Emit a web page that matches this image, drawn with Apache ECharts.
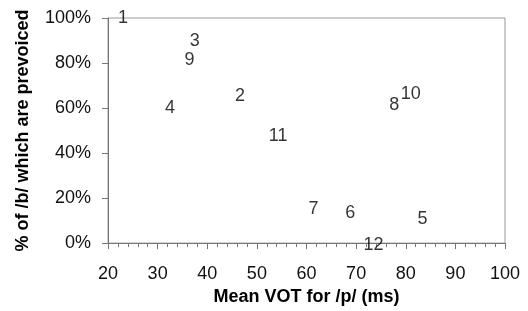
<!DOCTYPE html>
<html>
<head>
<meta charset="utf-8">
<script src="https://cdn.jsdelivr.net/npm/echarts@6/dist/echarts.min.js"></script>
<style>
  html, body { margin: 0; padding: 0; background: #fff; }
  #chart { width: 528px; height: 311px; }
</style>
</head>
<body>
<div id="chart"></div>
<script>
// point labels and their positions (mean VOT in ms, % prevoiced)
var labels = ['1', '2', '3', '4', '5', '6', '7', '8', '9', '10', '11', '12'];
var meanVot = [23, 46.6, 37.5, 32.5, 83.4, 68.8, 61.4, 77.7, 36.4, 81, 54.3, 73.5];
var prevoiced = [100, 65.3, 89.6, 60.2, 10.6, 13.5, 15.1, 61.2, 81.5, 66.1, 47.7, -1];

function DrawVot() {
    var chart = echarts.init(document.getElementById('chart'));
    var points = [];
    for (var i = 0; i < labels.length; i++) {
        points.push({ value: [meanVot[i], prevoiced[i]], name: labels[i] });
    }
    var font = 'Liberation Sans, Arial, sans-serif';
    var option = {
        animation: false,
        backgroundColor: '#fff',
        grid: {
            left: 108, right: 23, top: 18, bottom: 66,
            show: true,
            borderColor: '#999',
            borderWidth: 1
        },
        xAxis: {
            type: 'value',
            min: 20, max: 100, interval: 10,
            name: 'Mean VOT for /p/ (ms)',
            nameLocation: 'middle',
            nameGap: 44,
            nameTextStyle: { fontFamily: font, fontSize: 18, fontWeight: 'bold', color: '#000' },
            axisLine: { show: true, lineStyle: { color: '#777', width: 1 } },
            axisTick: { show: true, length: 6, lineStyle: { color: '#777' } },
            minorTick: { show: true, splitNumber: 5, length: 4, lineStyle: { color: '#777' } },
            splitLine: { show: false },
            axisLabel: { fontFamily: font, fontSize: 18, color: '#111', margin: 22 }
        },
        yAxis: {
            type: 'value',
            min: 0, max: 100, interval: 20,
            name: '% of /b/ which are prevoiced',
            nameLocation: 'middle',
            nameGap: 76,
            nameTextStyle: { fontFamily: font, fontSize: 18, fontWeight: 'bold', color: '#000' },
            axisLine: { show: true, lineStyle: { color: '#777', width: 1 } },
            axisTick: { show: true, length: 6, lineStyle: { color: '#777' } },
            splitLine: { show: false },
            axisLabel: { fontFamily: font, fontSize: 18, color: '#111', margin: 17, formatter: '{value}%' }
        },
        series: [{
            type: 'scatter',
            symbol: 'circle',
            symbolSize: 1,
            itemStyle: { color: 'rgba(0,0,0,0)' },
            clip: false,
            label: {
                show: true,
                position: 'inside',
                formatter: '{b}',
                fontFamily: font,
                fontSize: 18,
                color: '#000'
            },
            data: points
        }]
    };
    chart.setOption(option);
};

DrawVot();
</script>
</body>
</html>
